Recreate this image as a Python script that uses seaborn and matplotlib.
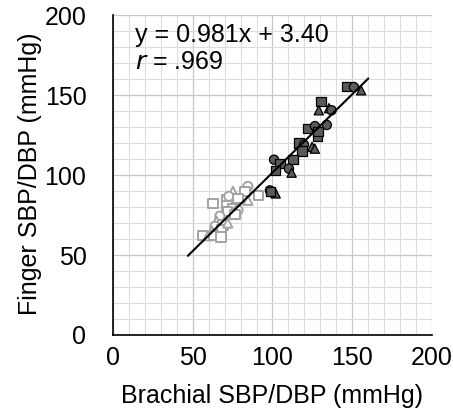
import numpy as np
import pandas as pd
import matplotlib.pyplot as plt
from matplotlib.ticker import MultipleLocator
import seaborn as sns

# SBP points (dark filled)
sbp_x = [146.7, 151.0, 155.5, 130.4, 129.0, 135.4, 137.0, 122.0, 126.6, 134.0,
         128.0, 128.5, 116.6, 119.7, 118.5, 124.8, 126.5, 101.0, 104.7, 102.0,
         112.9, 110.3, 112.0, 98.4, 102.0, 99.0]
sbp_y = [155.4, 155.0, 153.0, 146.0, 140.5, 141.8, 140.5, 129.0, 130.6, 131.3,
         124.0, 127.0, 120.0, 119.0, 115.0, 117.6, 116.5, 109.6, 107.0, 103.0,
         109.6, 104.0, 101.5, 90.4, 88.5, 89.8]
sbp_shape = ['square', 'circle', 'triangle', 'square', 'triangle', 'triangle', 'circle',
             'square', 'circle', 'circle', 'square', 'square', 'square', 'circle',
             'square', 'triangle', 'triangle', 'circle', 'square', 'square',
             'square', 'circle', 'triangle', 'circle', 'triangle', 'square']

# DBP points (light open)
dbp_x = [62.7, 75.2, 84.6, 82.8, 91.0, 84.6, 71.5, 72.7, 78.4, 71.5,
         75.2, 78.4, 72.0, 76.5, 67.0, 65.0, 69.0, 64.0, 68.3, 62.0,
         56.4, 59.6, 63.0, 72.0, 67.7]
dbp_y = [82.4, 89.8, 92.9, 89.8, 87.3, 84.2, 84.8, 86.7, 85.4, 81.0,
         79.3, 78.0, 77.4, 75.5, 74.3, 71.2, 68.7, 68.0, 65.6, 65.0,
         62.0, 62.0, 62.0, 70.0, 61.3]
dbp_shape = ['square', 'triangle', 'circle', 'square', 'square', 'triangle', 'square',
             'circle', 'square', 'square', 'square', 'circle', 'square', 'square',
             'circle', 'triangle', 'square', 'circle', 'square', 'triangle',
             'square', 'triangle', 'square', 'triangle', 'square']

slope = 0.981
intercept = 3.40
fit_x = [47.0, 160.0]

df = pd.DataFrame({
    'x': sbp_x + dbp_x,
    'y': sbp_y + dbp_y,
    'kind': ['SBP'] * len(sbp_x) + ['DBP'] * len(dbp_x),
    'shape': sbp_shape + dbp_shape,
})

sns.set_style('white')
plt.rcParams['font.family'] = ['Liberation Sans', 'DejaVu Sans']
plt.rcParams['text.color'] = 'black'
plt.rcParams['axes.labelcolor'] = 'black'
plt.rcParams['xtick.color'] = 'black'
plt.rcParams['ytick.color'] = 'black'

fig = plt.figure(figsize=(4.53, 4.19), dpi=100)
ax = fig.add_axes([0.249, 0.2005, 0.705, 0.7635])

markers = {'circle': 'o', 'square': 's', 'triangle': '^'}

# DBP open markers
d = df[df['kind'] == 'DBP']
sns.scatterplot(data=d, x='x', y='y', style='shape', markers=markers,
                color='white', edgecolor='#a3a3a3', linewidth=1.4, s=44,
                ax=ax, legend=False, zorder=3)
# SBP filled markers
s = df[df['kind'] == 'SBP']
sns.scatterplot(data=s, x='x', y='y', style='shape', markers=markers,
                color='#5a5a5a', edgecolor='black', linewidth=0.9, s=44,
                ax=ax, legend=False, zorder=4)

fx = np.array(fit_x)
ax.plot(fx, slope * fx + intercept, color='black', lw=1.5, zorder=5)

ax.set_xlim(0, 200)
ax.set_ylim(0, 200)
ax.xaxis.set_major_locator(MultipleLocator(50))
ax.yaxis.set_major_locator(MultipleLocator(50))
ax.xaxis.set_minor_locator(MultipleLocator(10))
ax.yaxis.set_minor_locator(MultipleLocator(10))
ax.grid(which='minor', color='#dcdcdc', lw=0.8, zorder=0)
ax.grid(which='major', color='#c8c8c8', lw=0.9, zorder=0)
ax.set_axisbelow(True)
ax.tick_params(which='major', direction='inout', length=10, width=1.2,
               color='black', labelsize=18, labelcolor='black')
ax.tick_params(axis='x', pad=3)
ax.tick_params(axis='y', pad=14)
ax.tick_params(which='minor', length=0)
for sp in ['top', 'right']:
    ax.spines[sp].set_visible(False)
for sp in ['left', 'bottom']:
    ax.spines[sp].set_color('black')
    ax.spines[sp].set_linewidth(1.2)

ax.set_xlabel('Brachial SBP/DBP (mmHg)', fontsize=18, labelpad=10)
ax.set_ylabel('Finger SBP/DBP (mmHg)', fontsize=18)
ax.yaxis.set_label_coords(-0.2226, 0.505)

ax.text(0.07, 0.975, 'y = 0.981x + 3.40', transform=ax.transAxes,
        fontsize=18, va='top', ha='left')
ax.text(0.07, 0.89, '$\\it{r}$ = .969', transform=ax.transAxes,
        fontsize=18, va='top', ha='left')

fig.savefig('out.png', dpi=100)
